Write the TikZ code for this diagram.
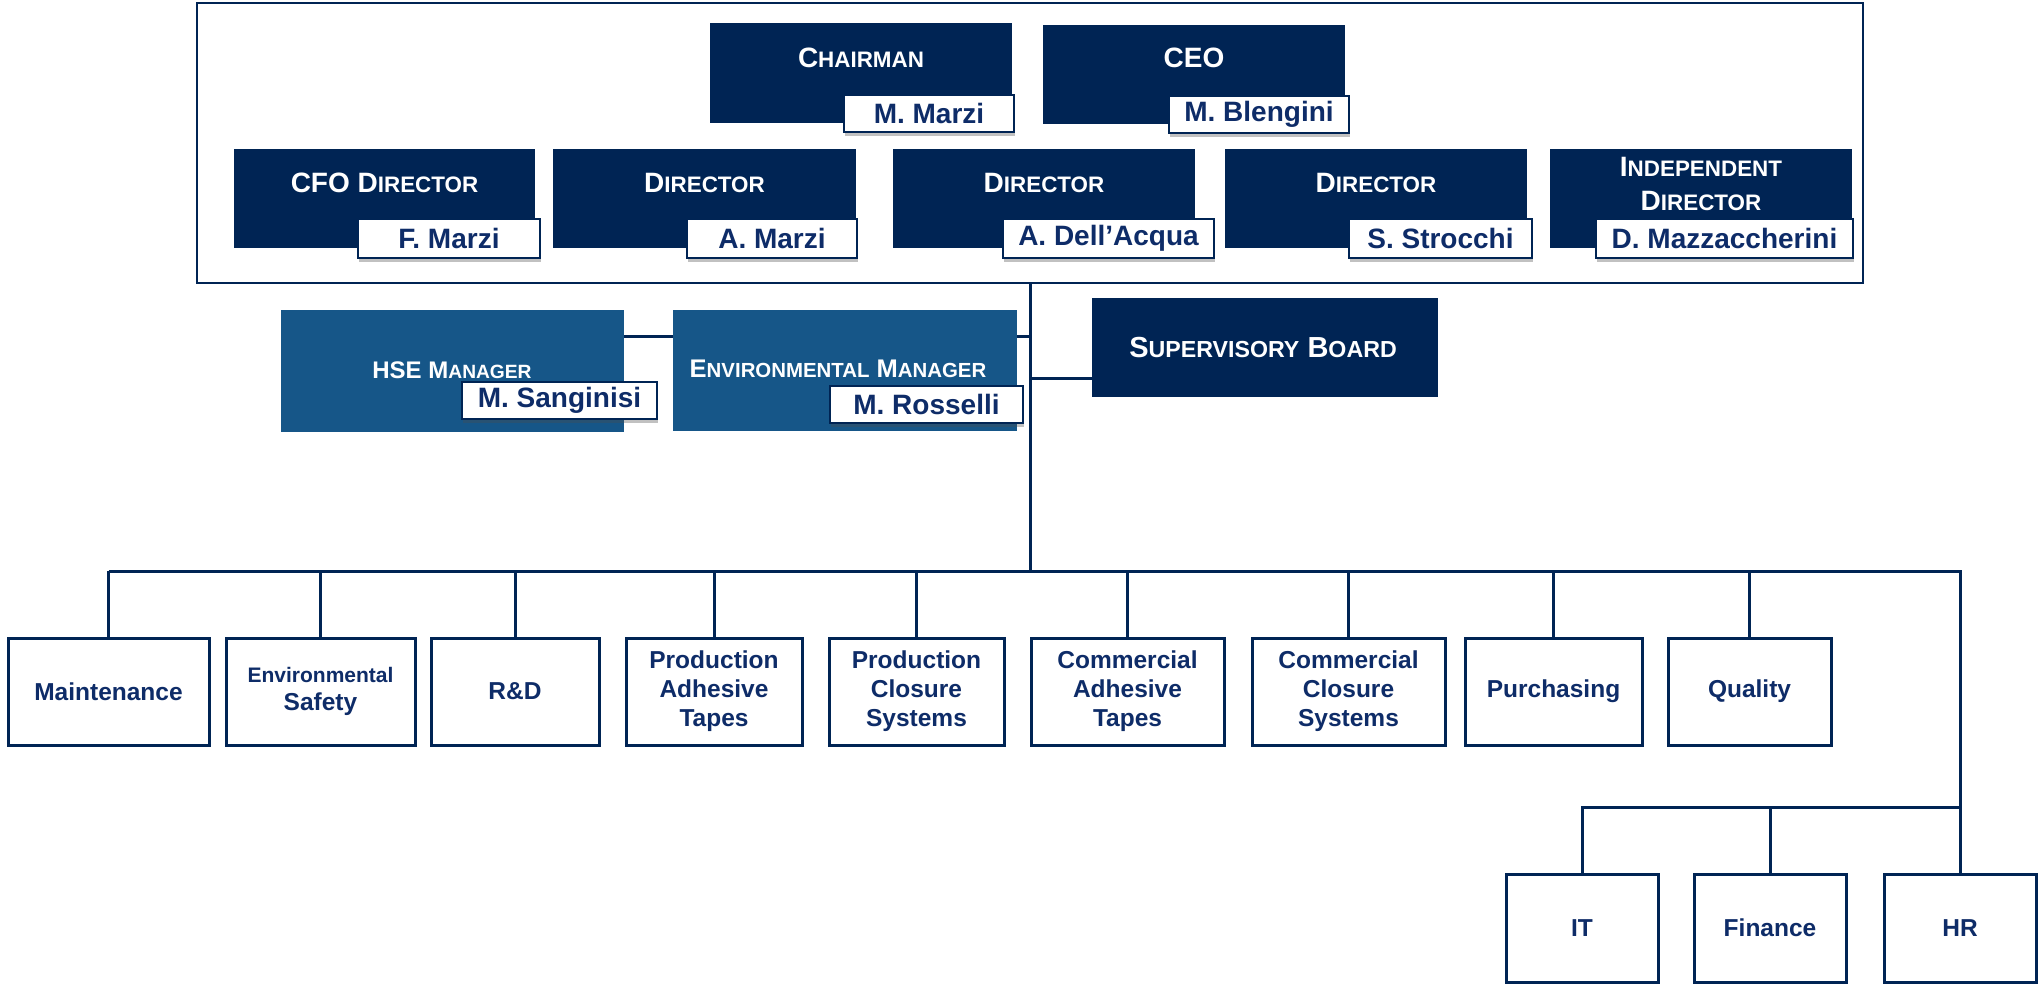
\documentclass[tikz,border=0pt]{standalone}
\usepackage{fontspec}
\setmainfont{Liberation Sans}
\usetikzlibrary{shadows}

\definecolor{navy}{RGB}{0,36,84}
\definecolor{steel}{RGB}{22,86,136}
\definecolor{ink}{RGB}{14,44,104}

% small-caps imitation: capital letter at full size, the rest smaller
\newcommand\smc[2]{{\fontsize{#1}{#1}\selectfont #2}}

\tikzset{
  sz/.style 2 args={minimum width=#1*0.5pt, minimum height=#2*0.5pt},
  frame/.style={draw=navy, line width=1.4pt, inner sep=0pt},
  darkbox/.style={fill=navy, draw=none, inner sep=0pt},
  steelbox/.style={fill=steel, draw=none, inner sep=0pt},
  titletext/.style={text=white, font=\bfseries\fontsize{14pt}{17pt}\selectfont, inner sep=0pt, align=center},
  namebox/.style={fill=white, draw=navy, line width=1pt, inner sep=0pt, text=ink,
    font=\bfseries\fontsize{14pt}{14pt}\selectfont,
    drop shadow={shadow xshift=0.6pt, shadow yshift=-2pt, opacity=0.35, fill=black!70}},
  unitbox/.style={fill=white, draw=navy, line width=1.5pt, inner sep=0pt, text=ink, align=center,
    font=\bfseries\fontsize{12.25pt}{14.5pt}\selectfont},
  conn/.style={draw=navy, line width=1.5pt},
}

\begin{document}
\begin{tikzpicture}[x=0.5pt, y=-0.5pt]
\useasboundingbox (0,0) rectangle (2044,985);

% board of directors
\node[frame, sz={1666}{280}] (board) at (1030,143) {};

\node[darkbox, sz={302}{100}] (chair) at (861,73) {};
\node[titletext, anchor=base] (chairT) at (861,67) {C\smc{11.2pt}{HAIRMAN}};
\node[namebox, sz={170}{37}] (chairN) at (929,113.5) {M. Marzi};

\node[darkbox, sz={302}{99}] (ceo) at (1194,74.5) {};
\node[titletext, anchor=base] (ceoT) at (1194,67) {CEO};
\node[namebox, sz={180}{37}] (ceoN) at (1259,114.5) {M. Blengini};

\node[darkbox, sz={301}{99}] (cfo) at (384.5,198.5) {};
\node[titletext, anchor=base] (cfoT) at (384.5,192) {CFO D\smc{11.2pt}{IRECTOR}};
\node[namebox, sz={182}{39}] (cfoN) at (449,238.5) {F. Marzi};

\node[darkbox, sz={303}{99}] (dirA) at (704.5,198.5) {};
\node[titletext, anchor=base] (dirAT) at (704.5,192) {D\smc{11.2pt}{IRECTOR}};
\node[namebox, sz={170}{39}] (dirAN) at (772,238.5) {A. Marzi};

\node[darkbox, sz={302}{99}] (dirB) at (1044,198.5) {};
\node[titletext, anchor=base] (dirBT) at (1044,192) {D\smc{11.2pt}{IRECTOR}};
\node[namebox, sz={211}{39}] (dirBN) at (1108.5,238.5) {A. Dell’Acqua};

\node[darkbox, sz={302}{99}] (dirC) at (1376,198.5) {};
\node[titletext, anchor=base] (dirCT) at (1376,192) {D\smc{11.2pt}{IRECTOR}};
\node[namebox, sz={183}{39}] (dirCN) at (1440.5,238.5) {S. Strocchi};

\node[darkbox, sz={302}{99}] (ind) at (1701,198.5) {};
\node[titletext] (indT) at (1701,184) {I\smc{11.2pt}{NDEPENDENT}\\D\smc{11.2pt}{IRECTOR}};
\node[namebox, sz={257}{39}] (indN) at (1724.5,238.5) {D. Mazzaccherini};

% staff functions beside the main line
\node[steelbox, sz={343}{122}] (hse) at (452.5,371) {};
\node[titletext, anchor=base] (hseT) at (452,378) {\fontsize{12pt}{12pt}\selectfont HSE M\smc{9.6pt}{ANAGER}};
\node[namebox, sz={195}{37}] (hseN) at (559.5,400.5) {M. Sanginisi};

\node[steelbox, sz={344}{121}] (env) at (845,370.5) {};
\node[titletext, anchor=base] (envT) at (838,377) {\fontsize{12.75pt}{12.75pt}\selectfont E\smc{10.2pt}{NVIRONMENTAL} M\smc{10.2pt}{ANAGER}};
\node[namebox, sz={193}{37}] (envN) at (926.5,404.5) {M. Rosselli};

\node[darkbox, sz={346}{99}] (sup) at (1265,347.5) {};
\node[titletext, anchor=base] (supT) at (1263,357) {\fontsize{14.5pt}{14.5pt}\selectfont S\smc{11.6pt}{UPERVISORY} B\smc{11.6pt}{OARD}};

% operating units
\node[unitbox, sz={201}{107}] (maint) at (108.5,691.5) {Maintenance};
\node[unitbox, sz={189}{107}, font=\bfseries\fontsize{12.25pt}{14.25pt}\selectfont] (envs) at (320.5,691.5)
  {{\fontsize{10.5pt}{14.25pt}\selectfont Environmental}\\Safety};
\node[unitbox, sz={168}{107}] (rd) at (515,691.5) {R\&D};
\node[unitbox, sz={176}{107}] (pat) at (714,691.5) {Production\\Adhesive\\Tapes};
\node[unitbox, sz={175}{107}] (pcs) at (916.5,691.5) {Production\\Closure\\Systems};
\node[unitbox, sz={193}{107}] (cat) at (1127.5,691.5) {Commercial\\Adhesive\\Tapes};
\node[unitbox, sz={193}{107}] (ccs) at (1348.5,691.5) {Commercial\\Closure\\Systems};
\node[unitbox, sz={177}{107}] (purch) at (1553.5,691.5) {Purchasing};
\node[unitbox, sz={163}{107}] (qual) at (1749.5,691.5) {Quality};

\node[unitbox, sz={152}{108}] (it) at (1582,928) {IT};
\node[unitbox, sz={152}{108}] (fin) at (1770,928) {Finance};
\node[unitbox, sz={152}{108}] (hr) at (1960,928) {HR};

% junction points on the main line
\coordinate (jEnv) at (1030,336);
\coordinate (jSup) at (1030,378);
\coordinate (hub) at (1030,571);
\coordinate (sub) at (1960,807);

% connectors
\draw[conn] (board.south) -- (hub);
\draw[conn] (hse.east |- jEnv) -- (env.west |- jEnv);
\draw[conn] (env.east |- jEnv) -- (jEnv);
\draw[conn] (jSup) -- (jSup -| sup.west);
\draw[conn] (maint.north |- hub) -- (hub -| hr.north) -- (hr.north);
\foreach \n in {maint,envs,rd,pat,pcs,cat,ccs,purch,qual}
  \draw[conn] (\n.north) -- (\n.north |- hub);
\draw[conn] (it.north) -- (it.north |- sub) -- (sub);
\draw[conn] (fin.north) -- (fin.north |- sub);
\end{tikzpicture}
\end{document}
